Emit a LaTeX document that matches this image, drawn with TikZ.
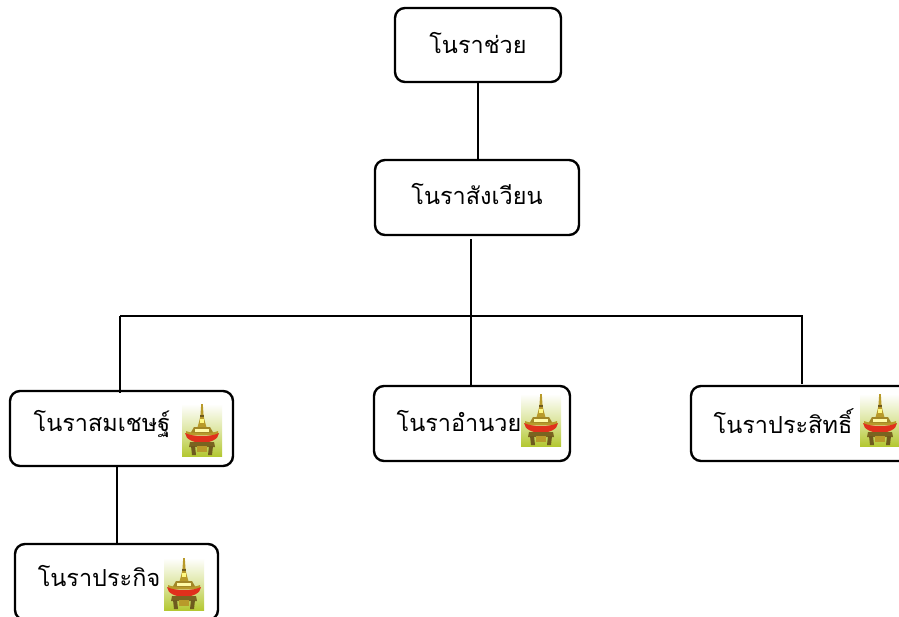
\documentclass[tikz,border=0pt]{standalone}
\usepackage{fontspec}
\newfontfamily\thaifont[Script=Thai]{Loma}
\definecolor{icongreen}{HTML}{B4C832}
\definecolor{icongold}{HTML}{B89A2A}
\definecolor{iconred}{HTML}{E0301C}
\definecolor{iconbrown}{HTML}{6E5A1E}
\tikzset{
  box/.style={draw=black,line width=1.8pt,rounded corners=7.5pt,fill=white,inner sep=0pt},
  lbl/.style={font=\thaifont\fontsize{17.6pt}{20pt}\selectfont,inner sep=0pt,anchor=center,text=black},
  wire/.style={draw=black,line width=1.3pt},
  shrine/.pic={
    % local frame: 40 x 52 px, origin top-left
    \shade[top color=white,bottom color=icongreen,middle color=white!55!icongreen] (0,0) rectangle (40,52);
    % spire
    \fill[icongold] (19.2,0) -- (20.8,0) -- (21.6,12) -- (23,18) -- (25,25) -- (15,25) -- (17,18) -- (18.4,12) -- cycle;
    \fill[iconbrown] (18.2,11) rectangle (21.8,13);
    \fill[yellow!50!white] (18.4,15) rectangle (21.6,19);
    % dome and tiers
    \fill[icongold!70!iconbrown] (12,23) -- (28,23) -- (32,30) -- (8,30) -- cycle;
    \fill[yellow!35!white] (13,25) rectangle (27,28);
    \fill[icongold] (4,27) .. controls (10,30) and (30,30) .. (36,27) -- (36,31) -- (4,31) -- cycle;
    % red band
    \fill[iconred] (3,29) .. controls (10,33) and (30,33) .. (37,29) .. controls (36,42) and (4,42) .. (3,29) -- cycle;
    % base
    \fill[iconbrown!85!icongold] (8,38) -- (32,38) -- (33,43) -- (7,43) -- cycle;
    \fill[iconbrown] (9,42) -- (13,42) -- (14,51) -- (10,51) -- cycle;
    \fill[iconbrown] (27,42) -- (31,42) -- (30,51) -- (26,51) -- cycle;
    \fill[icongold] (15,42) rectangle (25,48);
  }
}
\begin{document}
\begin{tikzpicture}[x=0.75pt,y=-0.75pt]
\useasboundingbox (0,0) rectangle (899,617);
\clip (0,0) rectangle (899,617);
% boxes: size and centre in reference pixels
\node[box,minimum width=124.5pt,minimum height=55.5pt] (top) at (478,45) {};
\node[box,minimum width=153pt,minimum height=56.25pt] (second) at (477,197.5) {};
\node[box,minimum width=167.25pt,minimum height=56.25pt] (left) at (121.5,428.5) {};
\node[box,minimum width=147pt,minimum height=56.25pt] (mid) at (472,423.5) {};
\node[box,minimum width=165pt,minimum height=56.25pt] (right) at (801,423.5) {};
\node[box,minimum width=152.25pt,minimum height=57pt] (bottom) at (116.5,582) {};
% labels
\node[lbl] (ttop) at (478,43) {โนราช่วย};
\node[lbl] (tsecond) at (477,194) {โนราสังเวียน};
\node[lbl] (tleft) at (102,424) {โนราสมเชษฐ์};
\node[lbl] (tmid) at (459,421) {โนราอำนวย};
\node[lbl] (tright) at (783,421) {โนราประสิทธิ์};
\node[lbl] (tbottom) at (99,576) {โนราประกิจ};
% icons
\pic at (182,404) {shrine};
\pic at (521,394) {shrine};
\pic at (860,394) {shrine};
\pic at (164,558) {shrine};
% connector junctions
\coordinate (stem) at (471,239);
\coordinate (barmid) at (471,316);
\coordinate (barleft) at (120,316);
\coordinate (barright) at (803,316);
\coordinate (leftin) at (120,393);
\coordinate (rightin) at (802,384);
\coordinate (leftout) at (117,466);
\coordinate (bottomin) at (117,544);
\draw[wire] (top.south) -- (top.south |- second.north);
\draw[wire] (stem) -- (barmid) -- (barmid |- mid.north);
\draw[wire] (barleft) -- (barright);
\draw[wire] (barleft) -- (leftin);
\draw[wire] (barright -| rightin) -- (rightin);
\draw[wire] (leftout) -- (bottomin);
\end{tikzpicture}
\end{document}
